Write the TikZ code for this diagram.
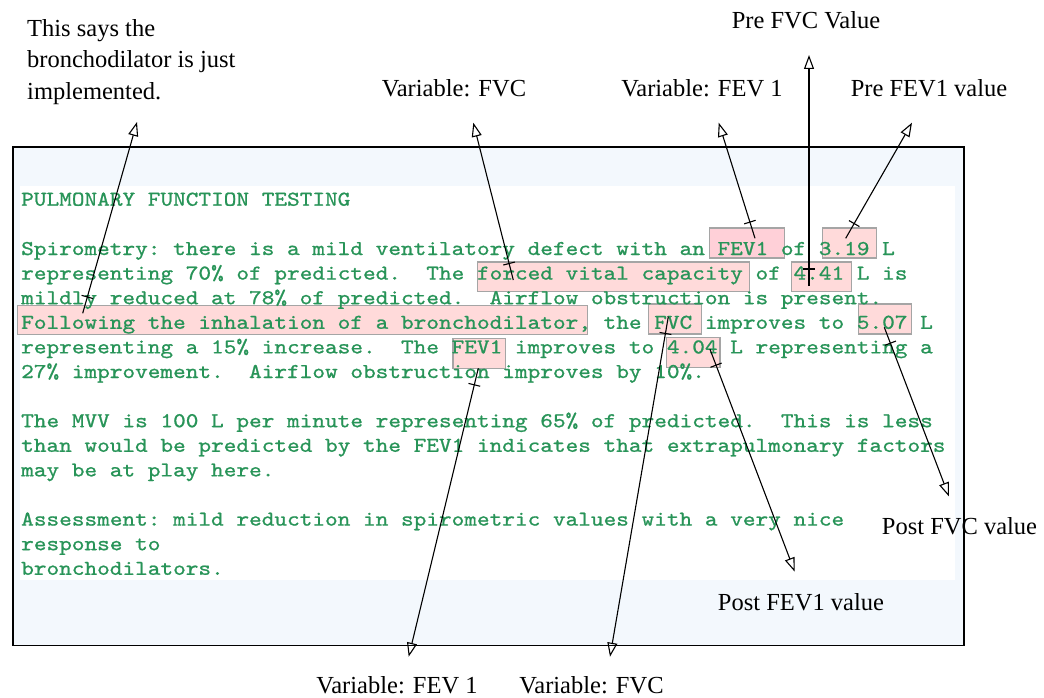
\documentclass[tikz,border=0pt]{standalone}
\usepackage{fontspec}
\usetikzlibrary{arrows.meta,decorations.markings}
\newfontfamily\monof[FakeStretch=1.143,FakeBold=0.9]{lmmono10-regular.otf}
\newfontfamily\lblf{Liberation Serif}
\definecolor{txtgreen}{RGB}{40,148,88}
\definecolor{bgblue}{RGB}{243,248,253}
\definecolor{hlpink}{RGB}{255,218,218}
\definecolor{hlpinkb}{RGB}{255,208,216}
\definecolor{hlgray}{RGB}{165,165,165}
\tikzset{
  mono/.style={anchor=base west, inner sep=0pt, text=txtgreen,
    font=\monof\fontsize{21.1}{24.6}\selectfont\frenchspacing},
  lbl/.style={inner sep=0pt, font=\lblf\fontsize{24.5}{30}\selectfont},
  hl/.style={draw=hlgray, line width=1.3pt, fill=hlpink, anchor=north west, inner sep=0pt},
  conn/.style={line width=1.1pt, -{Triangle[open,length=14pt,width=10pt]},
    postaction={decorate},
    decoration={markings, mark=at position 17pt with {\draw[arrows=-, line width=1.1pt] (0pt,-6pt) -- (0pt,6pt);}}}
}
\begin{document}
\begin{tikzpicture}[x=1pt,y=-1pt]
\useasboundingbox (0,0) rectangle (1044,698);
% frame and backgrounds
\node[draw=black, line width=1.6pt, fill=bgblue, anchor=north west, inner sep=0pt,
      minimum width=951pt, minimum height=498pt] (frame) at (12,146.5) {};
\node[fill=white, anchor=north west, inner sep=0pt, minimum width=935pt, minimum height=394pt] (page) at (20,186) {};
% highlight boxes
\node[hl, fill=hlpinkb, minimum width=75pt, minimum height=30pt] (b1) at (709,227.3) {};
\node[hl, minimum width=53.7pt, minimum height=30pt] (b2) at (822,227.3) {};
\node[hl, minimum width=272pt, minimum height=29.4pt] (b3) at (476.7,261.3) {};
\node[hl, minimum width=60pt, minimum height=29.4pt] (b4) at (790.7,261.3) {};
\node[hl, minimum width=570pt, minimum height=29.3pt] (b5) at (16.7,304.7) {};
\node[hl, minimum width=53pt, minimum height=30pt] (b6) at (647.7,303.3) {};
\node[hl, minimum width=53pt, minimum height=30pt] (b7) at (857.7,303.3) {};
\node[hl, minimum width=52.7pt, minimum height=30pt] (b8) at (452.3,338) {};
\node[hl, minimum width=53.3pt, minimum height=30pt] (b9) at (666,336.7) {};
% report text
\node[mono] (t0) at (21,205.7) {PULMONARY FUNCTION TESTING};
\node[mono] (t2) at (21,255) {Spirometry: there is a mild ventilatory defect with an FEV1 of 3.19 L};
\node[mono] (t3) at (21,279.6) {representing 70\% of predicted.\ \ The forced vital capacity of 4.41 L is};
\node[mono] (t4) at (21,304.2) {mildly reduced at 78\% of predicted.\ \ Airflow obstruction is present.};
\node[mono] (t5) at (21,328.8) {Following the inhalation of a bronchodilator, the FVC improves to 5.07 L};
\node[mono] (t6) at (21,353.4) {representing a 15\% increase.\ \ The FEV1 improves to 4.04 L representing a};
\node[mono] (t7) at (21,378) {27\% improvement.\ \ Airflow obstruction improves by 10\%.};
\node[mono] (t9) at (21,427.2) {The MVV is 100 L per minute representing 65\% of predicted.\ \ This is less};
\node[mono] (t10) at (21,451.8) {than would be predicted by the FEV1 indicates that extrapulmonary factors};
\node[mono] (t11) at (21,476.4) {may be at play here.};
\node[mono] (t13) at (21,525.6) {Assessment: mild reduction in spirometric values with a very nice};
\node[mono] (t14) at (21,550.2) {response to};
\node[mono] (t15) at (21,574.8) {bronchodilators.};
% labels
\node[lbl, anchor=base west] (la1) at (27,37) {This says the};
\node[lbl, anchor=base west] (la2) at (27,67.5) {bronchodilator is just};
\node[lbl, anchor=base west] (la3) at (27,99.5) {implemented.};
\node[lbl, anchor=base] (lvfvc) at (454,97) {Variable: FVC};
\node[lbl, anchor=base] (lvfev) at (702,97) {Variable: FEV 1};
\node[lbl, anchor=base] (lprefvc) at (806,29) {Pre FVC Value};
\node[lbl, anchor=base] (lprefev) at (929,97) {Pre FEV1 value};
\node[lbl, anchor=base] (lpostfvc) at (959.5,534) {Post FVC value};
\node[lbl, anchor=base] (lpostfev) at (801,610.5) {Post FEV1 value};
\node[lbl, anchor=base] (lbfev) at (397,693) {Variable: FEV 1};
\node[lbl, anchor=base] (lbfvc) at (591.5,693) {Variable: FVC};
% connector ends
\coordinate (sA) at (82.7,313.3);  \coordinate (eA) at (137,122);
\coordinate (sB) at (513.3,280);   \coordinate (eB) at (473.3,122.7);
\coordinate (sC) at (755,238.3);   \coordinate (eC) at (718.7,122.7);
\coordinate (sD) at (809,286);     \coordinate (eD) at (809,55);
\coordinate (sE) at (845.7,238.3); \coordinate (eE) at (912,122.7);
\coordinate (sF) at (478.3,368.3); \coordinate (eF) at (408.7,656.7);
\coordinate (sG) at (668.3,316.7); \coordinate (eG) at (610,656.7);
\coordinate (sH) at (710,349.3);   \coordinate (eH) at (794.7,571.7);
\coordinate (sI) at (884.3,327.3); \coordinate (eI) at (949,496.5);
% connectors
\draw[conn] (sA) -- (eA);
\draw[conn] (sB) -- (eB);
\draw[conn] (sC) -- (eC);
\draw[conn] (sD) -- (eD);
\draw[conn] (sE) -- (eE);
\draw[conn] (sF) -- (eF);
\draw[conn] (sG) -- (eG);
\draw[conn] (sH) -- (eH);
\draw[conn] (sI) -- (eI);
\end{tikzpicture}
\end{document}
